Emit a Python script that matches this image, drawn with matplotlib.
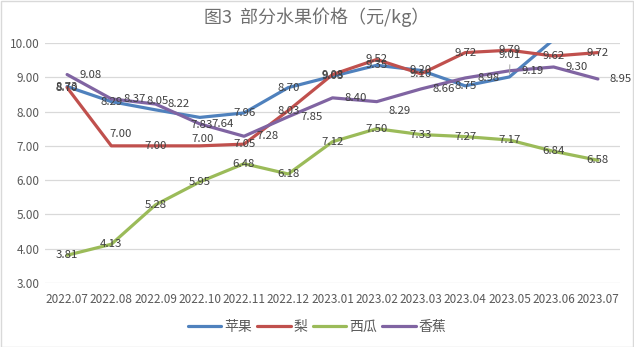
import matplotlib
matplotlib.use("Agg")
import matplotlib.pyplot as plt
import numpy as np

plt.rcParams['font.family'] = ['Noto Sans CJK SC', 'DejaVu Sans']

months = ["2022.07", "2022.08", "2022.09", "2022.10", "2022.11", "2022.12",
          "2023.01", "2023.02", "2023.03", "2023.04", "2023.05", "2023.06", "2023.07"]
apple = [8.73, 8.29, 8.05, 7.83, 7.96, 8.70, 9.03, 9.35, 9.20, 8.75, 9.01, 10.10, 10.60]
pear = [8.70, 7.00, 7.00, 7.00, 7.05, 8.03, 9.08, 9.52, 9.10, 9.72, 9.79, 9.62, 9.72]
watermelon = [3.81, 4.13, 5.28, 5.95, 6.48, 6.18, 7.12, 7.50, 7.33, 7.27, 7.17, 6.84, 6.58]
banana = [9.08, 8.37, 8.22, 7.64, 7.28, 7.85, 8.40, 8.29, 8.66, 8.98, 9.19, 9.30, 8.95]
series_names = ["苹果", "梨", "西瓜", "香蕉"]
title = "图3  部分水果价格（元/kg）"
yticks = [3, 4, 5, 6, 7, 8, 9, 10]

colors = ["#4F81BD", "#C0504D", "#9BBB59", "#8064A2"]
series = [apple, pear, watermelon, banana]

fig = plt.figure(figsize=(6.34, 3.47), dpi=100)
ax = fig.add_axes([45/634, 1-283/347, 575/634, 240/347])

x = np.arange(len(months))
ymin, ymax = 3, 10
for vals, c, name in zip(series, colors, series_names):
    ax.plot(x, vals, color=c, lw=2.3, label=name, solid_capstyle='round',
            solid_joinstyle='round', zorder=3)

ax.set_xlim(-0.5, len(months) - 0.5)
ax.set_ylim(ymin, ymax)
ax.set_yticks(yticks)
ax.set_yticklabels([f"{v:.2f}" for v in yticks])
ax.set_xticks(x)
ax.set_xticklabels(months)
ax.tick_params(axis='both', length=0, colors="#595959", labelsize=8.5)
ax.tick_params(axis='x', pad=7)
ax.tick_params(axis='y', pad=4)
for s in ax.spines.values():
    s.set_visible(False)
ax.grid(axis='y', color="#D9D9D9", lw=0.9, zorder=0)
ax.set_axisbelow(True)

# data labels (pixel offsets)
special = {
    (0, 2): (2, 9), (0, 3): (2, -8), (0, 10): (0, 22),
    (1, 1): (9, 12), (1, 3): (3, 7),
    (3, 7): (0, -9),
}
lab_color = "#404040"
for si, (vals, c) in enumerate(zip(series, colors)):
    for i, v in enumerate(vals):
        if v > ymax:
            continue
        dx, dy = special.get((si, i), (0, 0))
        if si == 3:
            ax.annotate(f"{v:.2f}", (i, v), xytext=(12 + dx, dy), textcoords='offset pixels',
                        ha='left', va='center', fontsize=8.2, color=lab_color, zorder=5)
        else:
            ax.annotate(f"{v:.2f}", (i, v), xytext=(dx, dy), textcoords='offset pixels',
                        ha='center', va='center', fontsize=8.2, color=lab_color, zorder=5)
        if (si, i) == (0, 10):
            ax.annotate("", (i, v), xytext=(0.5, 15), textcoords='offset pixels',
                        arrowprops=dict(arrowstyle='-', color="#A6A6A6", lw=0.7))

fig.text(0.5, 1 - 17/347, title, ha='center', va='center', fontsize=13, color="#6F6F6F")

leg = fig.legend(loc='center', bbox_to_anchor=(0.5, 1 - 327/347), ncol=4, frameon=False,
                 fontsize=10, handlelength=2.4, handletextpad=0.2, columnspacing=0.4,
                 labelcolor="#595959")
for l in leg.get_lines():
    l.set_linewidth(2.3)

# figure border
border = plt.Rectangle((0.5/634, 0.5/347), 1 - 1.5/634, 1 - 1.5/347, transform=fig.transFigure,
                       fill=False, edgecolor="#D9D9D9", lw=1)
fig.patches.append(border)

fig.savefig("out.png", dpi=100)
